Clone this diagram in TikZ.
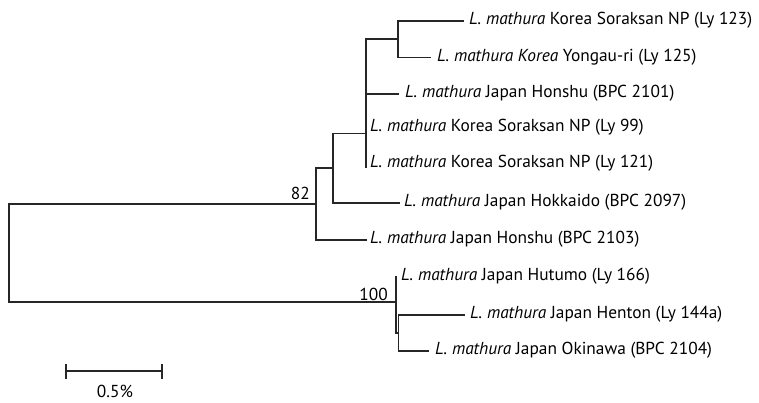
\documentclass[tikz,border=0pt]{standalone}
\usepackage{fontspec}
\setmainfont{PT Sans}
\newlength\labwsum
\newlength\labwtmp
\newcommand\labaddw[1]{\settowidth{\labwtmp}{\fontsize{10}{12}\selectfont #1}\global\advance\labwsum by \labwtmp\relax}
\newcommand\lm{\textit{L. mathura}}
\AtBeginDocument{%
\labaddw{\lm{} Korea Soraksan NP (Ly 123)}%
\pgfmathsetmacro\labfs{283/\labwsum*10}%
\xdef\labfs{\labfs}}
\tikzset{
  br/.style={line width=1.1pt,black!85},
  lab/.style={anchor=base west,inner sep=0pt,font=\fontsize{\labfs}{\labfs}\selectfont},
  sup/.style={anchor=base east,inner sep=0pt,font=\fontsize{\labfs}{\labfs}\selectfont}}
\begin{document}
\begin{tikzpicture}[x=1pt,y=-1pt]
\useasboundingbox (0,0) rectangle (759,402);
% tree vertices
\coordinate (P) at (398,39);
\coordinate (A) at (366,133.5);
\coordinate (Atop) at (366,39);
\coordinate (Abot) at (366,167.5);
\coordinate (B) at (333,168);
\coordinate (C) at (316,204);
\coordinate (R) at (9,254);
\coordinate (D) at (396,302);
\coordinate (Dtop) at (396,276);
\coordinate (E) at (398.3,333);
% tips
\coordinate (t123) at (464,21);
\coordinate (t125) at (431,57.5);
\coordinate (t2101) at (398.5,94);
\coordinate (thok) at (400,203);
\coordinate (t2103) at (367,240);
\coordinate (then) at (465,315);
\coordinate (toki) at (429,351);
% labels
\node[lab] (l123) at (469,24.5) {\lm{} Korea Soraksan NP (Ly 123)};
\node[lab] (l125) at (437,61) {\textit{L. mathura Korea} Yongau-ri (Ly 125)};
\node[lab] (l2101) at (405,97.5) {\lm{} Japan Honshu (BPC 2101)};
\node[lab] (l99) at (370,131.5) {\lm{} Korea Soraksan NP (Ly 99)};
\node[lab] (l121) at (370,167.5) {\lm{} Korea Soraksan NP (Ly 121)};
\node[lab] (lhok) at (404,206.5) {\lm{} Japan Hokkaido (BPC 2097)};
\node[lab] (l2103) at (370,243.5) {\lm{} Japan Honshu (BPC 2103)};
\node[lab] (lhut) at (401,280) {\lm{} Japan Hutumo (Ly 166)};
\node[lab] (lhen) at (470,318.5) {\lm{} Japan Henton (Ly 144a)};
\node[lab] (loki) at (435,354.5) {\lm{} Japan Okinawa (BPC 2104)};
\node[sup] (s82) at (310,199) {82};
\node[sup] (s100) at (388,300) {100};
% branches
\draw[br] (t123) -| (P) |- (t125);
\draw[br] (P) -| (A);
\draw[br] (Atop) -- (Abot);
\draw[br] (t2101) -| (A);
\draw[br] (A) -| (B) |- (thok);
\draw[br] (B) -| (C) |- (t2103);
\draw[br] (C) -| (R) |- (D);
\draw[br] (Dtop) -- (D);
\draw[br] (D) |- (E);
\draw[br] (E) |- (then);
\draw[br] (E) |- (toki);
% scale bar
\coordinate (s1) at (66,371);
\coordinate (s2) at (162,371);
\draw[br] (s1) -- (s2);
\draw[br] ([yshift=7.5pt]s1) -- ([yshift=-7.5pt]s1);
\draw[br] ([yshift=7.5pt]s2) -- ([yshift=-7.5pt]s2);
\node[anchor=base,inner sep=0pt,font=\fontsize{\labfs}{\labfs}\selectfont] (sl) at (115,397) {0.5\%};
\end{tikzpicture}
\end{document}
